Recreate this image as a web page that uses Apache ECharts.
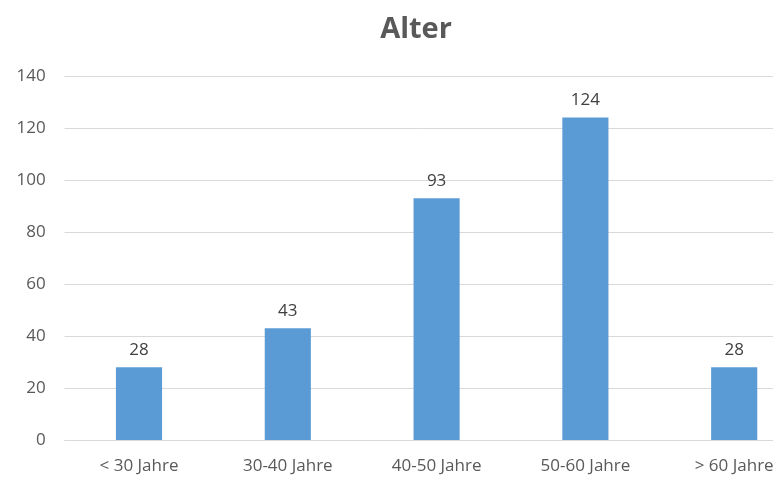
<!DOCTYPE html>
<html><head><meta charset="utf-8">
<script src="https://cdn.jsdelivr.net/npm/echarts@6/dist/echarts.min.js"></script>
<style>html,body{margin:0;padding:0;background:#fff}#c{width:773px;height:477px}</style>
</head><body><div id="c"></div>
<script>
const categories = ['< 30 Jahre', '30-40 Jahre', '40-50 Jahre', '50-60 Jahre', '> 60 Jahre'];
const values = [28, 43, 93, 124, 28];
const yTicks = { min: 0, max: 140, interval: 20 };
const chart = echarts.init(document.getElementById('c'));
chart.setOption({
  animation: false,
  title: {
    text: 'Alter', left: 411, top: 10, textAlign: 'center',
    textStyle: { fontFamily: 'Open Sans', fontWeight: 'bold', fontSize: 29, color: '#595959' }
  },
  grid: { left: 64.6, width: 744, top: 76, height: 364, containLabel: false, outerBoundsMode: 'none' },
  xAxis: {
    type: 'category', data: categories,
    axisLine: { lineStyle: { color: '#d9d9d9' } },
    axisTick: { show: false },
    axisLabel: { color: '#595959', fontSize: 17, fontFamily: 'Open Sans', margin: 18, interval: 0 }
  },
  yAxis: {
    type: 'value', min: yTicks.min, max: yTicks.max, interval: yTicks.interval,
    axisLine: { show: false }, axisTick: { show: false },
    splitLine: { lineStyle: { color: '#d9d9d9' } },
    axisLabel: { color: '#595959', fontSize: 17, fontFamily: 'Open Sans', margin: 19 }
  },
  series: [{
    type: 'bar', data: values, barWidth: '31%',
    itemStyle: { color: '#5b9bd5' },
    label: { show: true, position: 'top', distance: 9, color: '#404040', fontSize: 17, fontFamily: 'Open Sans' }
  }]
});
</script></body></html>
